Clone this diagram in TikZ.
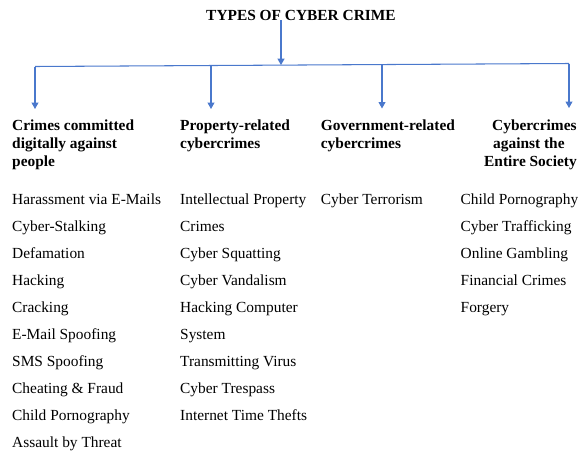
\documentclass[tikz,border=0pt]{standalone}
\usepackage{fontspec}
\setmainfont{Liberation Serif}
\usetikzlibrary{arrows.meta}
\definecolor{linkblue}{HTML}{4A78CC}
\begin{document}
\begin{tikzpicture}[x=1pt,y=-1pt,
  head/.style={anchor=base west,inner sep=0pt,font=\fontsize{15.4}{17.7}\selectfont\bfseries},
  itemtext/.style={anchor=base west,inner sep=0pt,font=\fontsize{15.4}{18}\selectfont},
  bus/.style={draw=linkblue,line width=1.05pt},
  link/.style={bus,-{Triangle[width=7pt,length=6.5pt]}}
]
\useasboundingbox (0,0) rectangle (578,450);

% title
\node[head,anchor=base] (title) at (301,20) {TYPES OF CYBER CRIME};

% distribution bus and drop points
\coordinate (busL) at (35,66.5);
\coordinate (busR) at (569,63.5);
\coordinate (hub)  at (281,65.1);
\coordinate (b2) at (211,65.5);
\coordinate (b3) at (382,64.5);
\coordinate (t1) at (35,109);
\coordinate (t2) at (211,109);
\coordinate (t3) at (382,108.5);
\coordinate (t4) at (569,108);

\draw[link] (title.south -| hub) -- (hub);
\draw[bus] (busL) -- (busR);
\draw[link] (busL) -- (t1);
\draw[link] (b2) -- (t2);
\draw[link] (b3) -- (t3);
\draw[link] (busR) -- (t4);

% category headings
\node[head] (h1a) at (12,130.7) {Crimes committed};
\node[head] (h1b) at (12,148.3) {digitally against};
\node[head] (h1c) at (12,166) {people};
\node[head] (h2a) at (180,130.7) {Property-related};
\node[head] (h2b) at (180,148.3) {cybercrimes};
\node[head] (h3a) at (320.7,130.7) {Government-related};
\node[head] (h3b) at (320.7,148.3) {cybercrimes};
\node[head] (h4a) at (492,130.7) {Cybercrimes};
\node[head] (h4b) at (493,148.3) {against the};
\node[head] (h4c) at (484,166) {Entire Society};

% items of each category
\foreach \t [count=\i from 0] in {Harassment via E-Mails,Cyber-Stalking,Defamation,Hacking,Cracking,E-Mail Spoofing,SMS Spoofing,Cheating \& Fraud,Child Pornography,Assault by Threat}
  \node[itemtext] (p\i) at (12,204+27.1*\i) {\t};
\foreach \t [count=\i from 0] in {Intellectual Property,Crimes,Cyber Squatting,Cyber Vandalism,Hacking Computer,System,Transmitting Virus,Cyber Trespass,Internet Time Thefts}
  \node[itemtext] (q\i) at (180,204+27.1*\i) {\t};
\node[itemtext] (g0) at (320.7,204) {Cyber Terrorism};
\foreach \t [count=\i from 0] in {Child Pornography,Cyber Trafficking,Online Gambling,Financial Crimes,Forgery}
  \node[itemtext] (s\i) at (460.5,204+27.1*\i) {\t};
\end{tikzpicture}
\end{document}
